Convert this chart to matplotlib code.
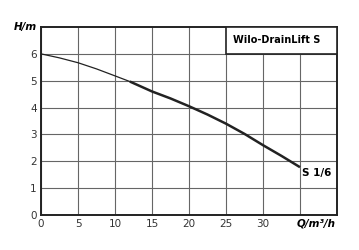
import matplotlib.pyplot as plt
from matplotlib.patches import Rectangle

# pump curve
q = [0, 2.5, 5, 7.5, 10, 12, 15, 17.5, 20, 22.5, 25, 27.5, 30, 32.5, 35]
h = [6.0, 5.85, 5.67, 5.44, 5.18, 4.97, 4.6, 4.34, 4.05, 3.74, 3.4, 3.02, 2.6, 2.2, 1.78]
q_thin = q[:6]
h_thin = h[:6]
q_thick = q[5:]
h_thick = h[5:]

x_ticks = [0, 5, 10, 15, 20, 25, 30]
y_ticks = [0, 1, 2, 3, 4, 5, 6]

fig = plt.figure(figsize=(3.59, 2.5), dpi=100)
ax = fig.add_axes([41 / 359, 35 / 250, 296 / 359, 188 / 250])

ax.set_xlim(0, 40)
ax.set_ylim(0, 7)
ax.set_xticks(x_ticks + [35])
ax.set_xticklabels([str(t) for t in x_ticks] + [''])
ax.set_yticks(y_ticks)
ax.tick_params(length=0, labelsize=7.5, colors='#333333', pad=3)
ax.grid(True, color='#666666', linewidth=0.8)
ax.set_axisbelow(True)
for s in ax.spines.values():
    s.set_color('#222222')
    s.set_linewidth(1.4)

# title box covers the grid in the upper right
ax.add_patch(Rectangle((25, 6), 15, 1, facecolor='white', edgecolor='#222222',
                       linewidth=1.2, zorder=3))
ax.text(26, 6.5, 'Wilo-DrainLift S', fontsize=7, fontweight='bold',
        va='center', ha='left', zorder=4)

ax.plot(q_thin, h_thin, color='#222222', linewidth=0.9, zorder=5)
ax.plot(q_thick, h_thick, color='#222222', linewidth=1.8, zorder=5,
        solid_capstyle='butt')
ax.text(35.3, 1.55, 'S 1/6', fontsize=7.5, fontweight='bold', va='center',
        ha='left')

ax.text(-0.6, 7.0, 'H/m', fontsize=7.5, fontweight='bold', style='italic',
        ha='right', va='center')
ax.text(34.6, -0.3, 'Q/m³/h', fontsize=7.5, fontweight='bold', style='italic',
        ha='left', va='center')

fig.savefig('out.png', dpi=100)
